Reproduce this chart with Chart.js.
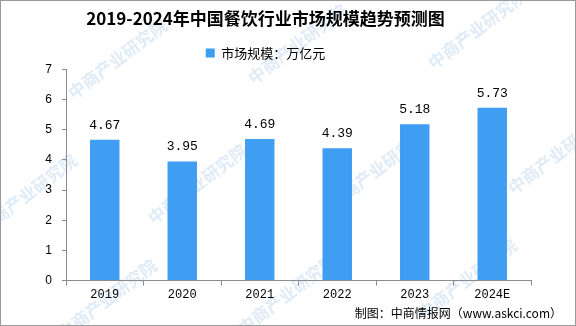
<!DOCTYPE html>
<html>
<head>
<meta charset="utf-8">
<script src="https://cdn.jsdelivr.net/npm/chart.js@4/dist/chart.umd.min.js"></script>
<style>
  html, body { margin: 0; padding: 0; background: #fff; }
  #wrap { width: 576px; height: 326px; position: relative; }
</style>
</head>
<body>
<div id="wrap"><canvas id="chart"></canvas></div>
<script>
const years = ['2019', '2020', '2021', '2022', '2023', '2024E'];
const marketSize = [4.67, 3.95, 4.69, 4.39, 5.18, 5.73];
const seriesName = '市场规模：万亿元';
const yTicks = [0, 1, 2, 3, 4, 5, 6, 7];

const barColor = '#3f9ef2';
const axisColor = '#8c8c8c';

// faint diagonal watermark + frame + source note
const decorPlugin = {
  id: 'decor',
  beforeDraw(chart) {
    const ctx = chart.ctx;
    ctx.save();
    ctx.fillStyle = '#fff';
    ctx.fillRect(0, 0, chart.width, chart.height);
    ctx.font = 'bold 17px "Noto Sans CJK SC"';
    ctx.fillStyle = 'rgba(150, 190, 230, 0.3)';
    const spots = [[70, 95], [250, 80], [430, 65], [150, 220], [330, 205], [510, 190], [-20, 230], [60, 335], [240, 330], [420, 315]];
    spots.forEach(([x, y]) => {
      ctx.save();
      ctx.translate(x, y);
      ctx.rotate(-0.65);
      ctx.fillText('中商产业研究院', 0, 0);
      ctx.restore();
    });
    ctx.restore();
  },
  afterDraw(chart) {
    const ctx = chart.ctx;
    ctx.save();
    ctx.strokeStyle = '#9a9a9a';
    ctx.lineWidth = 1;
    ctx.strokeRect(0.5, 0.5, chart.width - 1, chart.height - 1);
    ctx.fillStyle = '#000';
    ctx.font = '12px "Noto Sans CJK SC"';
    ctx.textAlign = 'right';
    ctx.textBaseline = 'middle';
    ctx.fillText('制图：中商情报网（www.askci.com）', 562, 313);
    ctx.restore();
  }
};

const valueLabels = {
  id: 'valueLabels',
  afterDatasetsDraw(chart) {
    const ctx = chart.ctx;
    const meta = chart.getDatasetMeta(0);
    ctx.save();
    ctx.fillStyle = '#000';
    ctx.font = '13px "Liberation Mono"';
    ctx.textAlign = 'center';
    ctx.textBaseline = 'bottom';
    meta.data.forEach((bar, i) => {
      ctx.fillText(marketSize[i].toFixed(2), bar.x, bar.y - 8);
    });
    ctx.restore();
  }
};

new Chart(document.getElementById('chart'), {
  type: 'bar',
  data: {
    labels: years,
    datasets: [{
      label: seriesName,
      data: marketSize,
      backgroundColor: barColor,
      barPercentage: 0.38,
      categoryPercentage: 1
    }]
  },
  options: {
    responsive: true,
    maintainAspectRatio: false,
    animation: false,
    layout: { padding: { left: 0, right: 45, top: 0, bottom: 22 } },
    plugins: {
      title: {
        display: true,
        text: '2019-2024年中国餐饮行业市场规模趋势预测图',
        color: '#000',
        font: { family: '"Noto Sans CJK SC"', size: 17, weight: 'bold' },
        padding: { top: 8, bottom: 8 }
      },
      legend: {
        display: true,
        labels: {
          color: '#000',
          font: { family: '"Noto Sans CJK SC"', size: 13 },
          boxWidth: 9,
          boxHeight: 9,
          padding: 10
        }
      },
      tooltip: { enabled: false }
    },
    scales: {
      x: {
        offset: true,
        grid: {
          offset: true,
          drawOnChartArea: false,
          drawTicks: true,
          tickLength: 5,
          color: axisColor
        },
        border: { color: axisColor },
        ticks: {
          color: '#000',
          font: { family: '"Liberation Mono"', size: 12 },
          padding: 2
        }
      },
      y: {
        min: 0,
        max: 7,
        afterBuildTicks(axis) {
          axis.ticks = yTicks.map(v => ({ value: v }));
        },
        afterFit(axis) { axis.width = 66; },
        grid: {
          drawOnChartArea: false,
          drawTicks: true,
          tickLength: 4,
          color: axisColor
        },
        border: { color: axisColor },
        ticks: {
          color: '#000',
          font: { family: '"Liberation Sans"', size: 12 },
          padding: 10
        }
      }
    }
  },
  plugins: [decorPlugin, valueLabels]
});
</script>
</body>
</html>
